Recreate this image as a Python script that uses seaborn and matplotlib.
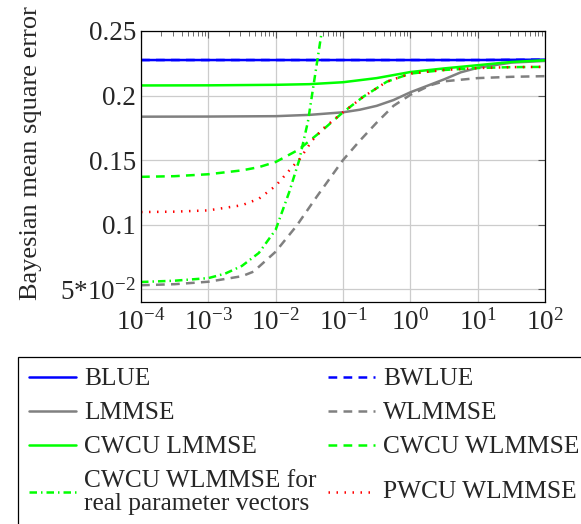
import numpy as np
import pandas as pd
import matplotlib
matplotlib.use("Agg")
import matplotlib.pyplot as plt
import seaborn as sns
from matplotlib.ticker import LogLocator, FixedLocator, NullFormatter

# x positions of the read points are kept as log10 exponents
blue_exp = [-4, -3, -2, -1, 0, 1, 2]
blue_mse = [0.2275, 0.2275, 0.2275, 0.2275, 0.2275, 0.2275, 0.2278]

lmmse_exp = [-4, -3, -2, -1.5, -1, -0.75, -0.5, -0.25, 0, 0.25, 0.5, 0.75, 1, 1.5, 2]
lmmse_mse = [0.1836, 0.1837, 0.1840, 0.1850, 0.1870, 0.1890, 0.1920, 0.1965, 0.2025, 0.2075,
             0.2125, 0.2180, 0.2215, 0.2255, 0.2268]

wlmmse_exp = [-4, -3.5, -3, -2.5, -2.33, -2, -1.69, -1.39, -1, -0.75, -0.5, -0.25, 0, 0.3, 0.5, 1, 1.5, 2]
wlmmse_mse = [0.0530, 0.0538, 0.0557, 0.0600, 0.0635, 0.0790, 0.0990, 0.1216, 0.1500, 0.1650,
              0.1790, 0.1920, 0.2005, 0.2080, 0.2110, 0.2135, 0.2145, 0.2150]

cwcu_lmmse_exp = [-4, -3, -2, -1.5, -1, -0.5, 0, 0.5, 1, 1.5, 2]
cwcu_lmmse_mse = [0.2078, 0.2079, 0.2083, 0.2088, 0.2103, 0.2135, 0.2182, 0.2210, 0.2235, 0.2260, 0.2273]

cwcu_wlmmse_exp = [-4, -3.5, -3, -2.5, -2.25, -2, -1.66, -1.33, -1, -0.7, -0.35, 0, 0.5, 1, 1.5, 2]
cwcu_wlmmse_mse = [0.1370, 0.1375, 0.1390, 0.1420, 0.1445, 0.1485, 0.1580, 0.1720, 0.1870, 0.1990,
                   0.2107, 0.2170, 0.2198, 0.2213, 0.2220, 0.2222]

real_exp = [-4, -3.5, -3, -2.75, -2.5, -2.25, -2, -1.8, -1.65, -1.52, -1.42, -1.37, -1.3]
real_mse = [0.0555, 0.0565, 0.0585, 0.0620, 0.0680, 0.0780, 0.0960, 0.1250, 0.1500, 0.1800,
            0.2140, 0.2310, 0.2550]

pwcu_exp = [-4, -3.5, -3, -2.5, -2.25, -2, -1.74, -1.64, -1.46, -1.29, -1, -0.7, -0.35, 0, 0.5, 1, 1.5, 2]
pwcu_mse = [0.1097, 0.1100, 0.1110, 0.1150, 0.1200, 0.1300, 0.1454, 0.1510, 0.1650, 0.1746, 0.1870,
            0.1990, 0.2107, 0.2170, 0.2198, 0.2213, 0.2220, 0.2222]

series = [
    ("BLUE", blue_exp, blue_mse, "#0000ff", "-"),
    ("BWLUE", blue_exp, blue_mse, "#0000ff", (0, (3.5, 2.5))),
    ("LMMSE", lmmse_exp, lmmse_mse, "#808080", "-"),
    ("WLMMSE", wlmmse_exp, wlmmse_mse, "#808080", (0, (3.5, 2.5))),
    ("CWCU LMMSE", cwcu_lmmse_exp, cwcu_lmmse_mse, "#00ff00", "-"),
    ("CWCU WLMMSE", cwcu_wlmmse_exp, cwcu_wlmmse_mse, "#00ff00", (0, (3.5, 2.5))),
    ("CWCU WLMMSE for\nreal parameter vectors", real_exp, real_mse, "#00ff00", (0, (3, 1.6, 0.6, 1.6))),
    ("PWCU WLMMSE", pwcu_exp, pwcu_mse, "#ff0000", (0, (0.6, 2.6))),
]

sns.set_style("white")
plt.rcParams["font.family"] = ["Liberation Serif", "DejaVu Serif"]
plt.rcParams["mathtext.fontset"] = "custom"
plt.rcParams["mathtext.rm"] = "Liberation Serif"
plt.rcParams["mathtext.it"] = "Liberation Serif:italic"
plt.rcParams["mathtext.bf"] = "Liberation Serif:bold"

fs = 19.5
leg_fs = 18.3

fig = plt.figure(figsize=(5.81, 5.24), dpi=100)
ax = fig.add_axes([141 / 581, 1 - 302 / 524, 404 / 581, 271 / 524])

lines = {}
for name, xe, ys, col, ls in series:
    df = pd.DataFrame({"x": 10.0 ** np.array(xe), "mse": ys})
    sns.lineplot(data=df, x="x", y="mse", ax=ax, color=col, linestyle=ls,
                 linewidth=1.8, label=name, legend=False)
    lines[name] = ax.get_lines()[-1]

ax.set_xscale("log")
ax.set_xlim(1e-4, 1e2)
ax.set_ylim(0.04, 0.25)

ax.xaxis.set_major_locator(LogLocator(base=10, numticks=20))
ax.xaxis.set_minor_locator(LogLocator(base=10, subs=np.arange(2, 10), numticks=20))
ax.xaxis.set_minor_formatter(NullFormatter())
xticks = [1e-4, 1e-3, 1e-2, 1e-1, 1e0, 1e1, 1e2]
xticklabels = [r"$10^{-4}$", r"$10^{-3}$", r"$10^{-2}$", r"$10^{-1}$", r"$10^{0}$", r"$10^{1}$", r"$10^{2}$"]
ax.set_xticks(xticks)
ax.set_xticklabels(xticklabels, fontsize=fs)
yticks = [0.05, 0.1, 0.15, 0.2, 0.25]
yticklabels = [r"5*10$^{-2}$", "0.1", "0.15", "0.2", "0.25"]
ax.yaxis.set_major_locator(FixedLocator(yticks))
ax.set_yticklabels(yticklabels, fontsize=fs)

ax.tick_params(which="both", direction="in", top=True, right=True, color="#555555")
ax.tick_params(which="major", length=5, width=0.8)
ax.tick_params(axis="x", which="major", pad=5)
ax.tick_params(which="minor", length=3.5, width=0.6)
ax.grid(True, which="major", color="#cccccc", linewidth=0.9)
for sp in ax.spines.values():
    sp.set_color("black")
    sp.set_linewidth(0.9)

ax.set_xlabel("")
ax.set_ylabel("Bayesian mean square error", fontsize=19)
ax.yaxis.set_label_coords(-0.245, 0.55)

order = ["BLUE", "LMMSE", "CWCU LMMSE", "CWCU WLMMSE for\nreal parameter vectors",
         "BWLUE", "WLMMSE", "CWCU WLMMSE", "PWCU WLMMSE"]
labels = [n if n != "PWCU WLMMSE" else "\nPWCU WLMMSE\n" for n in order]
leg = fig.legend([lines[n] for n in order], labels, ncol=2, loc="upper left",
                 bbox_to_anchor=(18 / 581, 1 - 357 / 524), borderaxespad=0,
                 fontsize=leg_fs, frameon=True, fancybox=False, edgecolor="black",
                 framealpha=1, handlelength=1.85, handletextpad=0.32,
                 columnspacing=0.45, labelspacing=0.44, borderpad=0.42)
leg.get_frame().set_linewidth(0.9)
leg.get_texts()[3].set_linespacing(1.08)
leg.get_texts()[7].set_linespacing(0.38)

fig.savefig("out.png", dpi=100)
